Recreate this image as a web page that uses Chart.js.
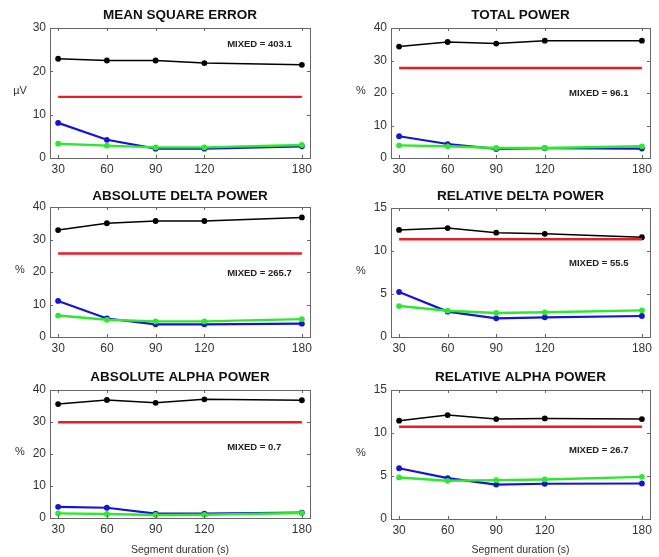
<!DOCTYPE html>
<html lang="en">
<head>
  <meta charset="UTF-8">
  <title>Segment duration panels</title>
  <script src="https://cdn.jsdelivr.net/npm/chart.js"></script>
  <style>
    body { margin: 0; background: #fff; }
    .wrap { position: relative; width: 659px; height: 557px; }
    .panel { position: absolute; }
  </style>
</head>
<body>
  <div class="wrap" id="wrap"></div>

  <script>
    // segment durations (s) shared by all panels
    const durations = [30, 60, 90, 120, 180];
    const xTicks = [30, 60, 90, 120, 180];

    const panelTitles = ['MEAN SQUARE ERROR', 'TOTAL POWER', 'ABSOLUTE DELTA POWER',
                         'RELATIVE DELTA POWER', 'ABSOLUTE ALPHA POWER', 'RELATIVE ALPHA POWER'];
    const yUnits = ['\u00b5V', '%', '%', '%', '%', '%'];
    const yMax = [30, 40, 40, 15, 40, 15];
    const yStep = [10, 10, 10, 5, 10, 5];
    const mixedValues = [403.1, 96.1, 265.7, 55.5, 0.7, 26.7];

    // horizontal red reference levels
    const redLevels = [14.1, 27.7, 25.7, 11.36, 29.9, 10.73];

    const mseBlack = [22.9, 22.5, 22.5, 21.9, 21.5];
    const mseBlue  = [8.1, 4.2, 2.15, 2.15, 2.7];
    const mseGreen = [3.3, 2.85, 2.45, 2.45, 3.0];

    const tpBlack = [34.3, 35.7, 35.2, 36.1, 36.1];
    const tpBlue  = [6.7, 4.3, 2.8, 3.0, 2.9];
    const tpGreen = [3.9, 3.6, 3.1, 3.1, 3.6];

    const adBlack = [32.9, 35.0, 35.7, 35.7, 36.8];
    const adBlue  = [11.1, 5.7, 3.9, 3.9, 4.1];
    const adGreen = [6.6, 5.3, 4.8, 4.8, 5.5];

    const rdBlack = [12.45, 12.67, 12.13, 12.0, 11.6];
    const rdBlue  = [5.23, 2.95, 2.17, 2.29, 2.44];
    const rdGreen = [3.6, 3.06, 2.79, 2.87, 3.1];

    const aaBlack = [35.6, 36.9, 36.0, 37.1, 36.8];
    const aaBlue  = [3.5, 3.2, 1.35, 1.35, 1.65];
    const aaGreen = [1.45, 1.25, 0.93, 1.0, 1.55];

    const raBlack = [11.43, 12.08, 11.62, 11.7, 11.62];
    const raBlue  = [5.9, 4.75, 4.0, 4.1, 4.13];
    const raGreen = [4.83, 4.44, 4.52, 4.6, 4.9];

    const blackSets = [mseBlack, tpBlack, adBlack, rdBlack, aaBlack, raBlack];
    const blueSets  = [mseBlue, tpBlue, adBlue, rdBlue, aaBlue, raBlue];
    const greenSets = [mseGreen, tpGreen, adGreen, rdGreen, aaGreen, raGreen];

    const FONT = '"Liberation Sans", Arial, sans-serif';

    // layout of each panel: canvas box and plot area inside it
    const layouts = [
      { x: 0,   y: 0,   w: 330, h: 180, area: [50, 28, 310, 158], mixAt: [134, 26.3], titleY: 15 },
      { x: 330, y: 0,   w: 329, h: 180, area: [61, 28, 320, 158], mixAt: [135, 20],   titleY: 15 },
      { x: 0,   y: 180, w: 330, h: 180, area: [50, 27, 310, 157], mixAt: [134, 19.5], titleY: 16 },
      { x: 330, y: 180, w: 329, h: 180, area: [61, 28, 320, 157], mixAt: [135, 8.6],  titleY: 16 },
      { x: 0,   y: 360, w: 330, h: 197, area: [50, 30, 310, 158], mixAt: [134, 22],   titleY: 17, xlabel: true },
      { x: 330, y: 360, w: 329, h: 197, area: [61, 30, 320, 159], mixAt: [135, 8.0],  titleY: 17, xlabel: true }
    ];

    const pts = arr => arr.map((v, i) => ({ x: durations[i], y: v }));

    const boxPlugin = {
      id: 'box',
      afterDraw(chart, args, o) {
        const ctx = chart.ctx;
        const a = chart.chartArea;
        const xs = chart.scales.x, ys = chart.scales.y;
        ctx.save();
        ctx.strokeStyle = '#666';
        ctx.lineWidth = 1;
        ctx.strokeRect(a.left + 0.5, a.top + 0.5, a.right - a.left, a.bottom - a.top);
        ctx.beginPath();
        xTicks.forEach(t => {
          const px = Math.round(xs.getPixelForValue(t)) + 0.5;
          ctx.moveTo(px, a.bottom); ctx.lineTo(px, a.bottom - 3);
          ctx.moveTo(px, a.top); ctx.lineTo(px, a.top + 3);
        });
        for (let v = 0; v <= o.yMax; v += o.yStep) {
          const py = Math.round(ys.getPixelForValue(v)) + 0.5;
          ctx.moveTo(a.left, py); ctx.lineTo(a.left + 3, py);
          ctx.moveTo(a.right, py); ctx.lineTo(a.right - 3, py);
        }
        ctx.stroke();

        ctx.fillStyle = '#111';
        ctx.textAlign = 'center';
        ctx.textBaseline = 'middle';
        ctx.font = 'bold 13.5px ' + FONT;
        ctx.fillText(o.title, (a.left + a.right) / 2, o.titleY);

        ctx.fillStyle = '#333';
        ctx.font = '11px ' + FONT;
        ctx.fillText(o.unit, a.left - 30, (a.top + a.bottom) / 2 - 2);

        ctx.fillStyle = '#222';
        ctx.textAlign = 'left';
        ctx.font = 'bold 9.5px ' + FONT;
        ctx.fillText('MIXED = ' + o.mixed, xs.getPixelForValue(o.mixAt[0]), ys.getPixelForValue(o.mixAt[1]));

        if (o.xlabel) {
          ctx.textAlign = 'center';
          ctx.fillStyle = '#333';
          ctx.font = '10.5px ' + FONT;
          ctx.fillText('Segment duration (s)', (a.left + a.right) / 2, 190);
        }
        ctx.restore();
      }
    };

    const wrap = document.getElementById('wrap');

    layouts.forEach((L, i) => {
      const div = document.createElement('div');
      div.className = 'panel';
      div.style.left = L.x + 'px';
      div.style.top = L.y + 'px';
      div.style.width = L.w + 'px';
      div.style.height = L.h + 'px';
      const canvas = document.createElement('canvas');
      div.appendChild(canvas);
      wrap.appendChild(div);

      const [aL, aT, aR, aB] = L.area;
      const lineSet = (data, color, width, radius) => ({
        data: pts(data),
        borderColor: color,
        backgroundColor: color,
        borderWidth: width,
        pointRadius: radius,
        pointHoverRadius: radius,
        pointBorderWidth: 0,
        tension: 0
      });

      new Chart(canvas, {
        type: 'line',
        data: {
          datasets: [
            lineSet(greenSets[i], '#2ee82e', 2.4, 2.9),
            lineSet(blueSets[i], '#1414d2', 2.2, 2.9),
            lineSet(durations.map(() => redLevels[i]), '#ec1c24', 2.4, 0),
            lineSet(blackSets[i], '#000000', 1.5, 2.9)
          ]
        },
        options: {
          responsive: true,
          maintainAspectRatio: false,
          animation: false,
          layout: { padding: { left: 0, top: aT, right: L.w - aR, bottom: 0 } },
          plugins: {
            legend: { display: false },
            tooltip: { enabled: false },
            box: {
              title: panelTitles[i], unit: yUnits[i], mixed: mixedValues[i],
              yMax: yMax[i], yStep: yStep[i], mixAt: L.mixAt, titleY: L.titleY,
              xlabel: !!L.xlabel
            }
          },
          scales: {
            x: {
              type: 'linear', min: 25, max: 185,
              afterBuildTicks: s => { s.ticks = xTicks.map(v => ({ value: v })); },
              afterFit: s => { s.height = L.h - aB; },
              grid: { display: false, drawTicks: false },
              border: { display: false },
              ticks: { color: '#333', font: { family: FONT, size: 12 }, padding: 4, maxRotation: 0 }
            },
            y: {
              min: 0, max: yMax[i],
              afterFit: s => { s.width = aL; },
              grid: { display: false, drawTicks: false },
              border: { display: false },
              ticks: { stepSize: yStep[i], color: '#333', font: { family: FONT, size: 12 }, padding: 4 }
            }
          }
        },
        plugins: [boxPlugin]
      });
    });
  </script>
</body>
</html>
